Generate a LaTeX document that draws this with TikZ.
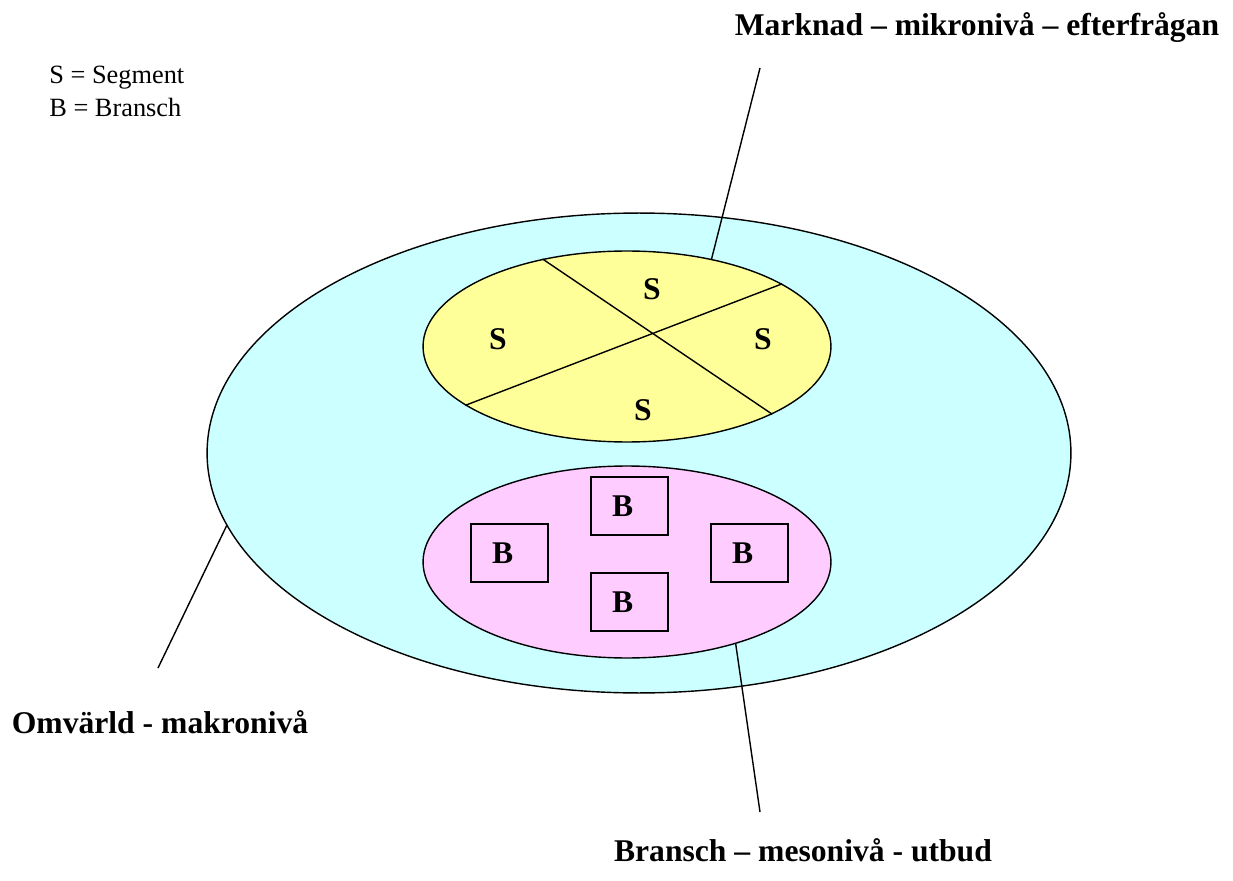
\documentclass[tikz,border=0pt]{standalone}
\usepackage{fontspec}
\setmainfont{Liberation Serif}
\usetikzlibrary{shapes.geometric}
\definecolor{omvcyan}{HTML}{CCFFFF}
\definecolor{marknadgul}{HTML}{FFFF99}
\definecolor{branschrosa}{HTML}{FFCCFF}
\tikzset{
  niva/.style={ellipse, draw=black, line width=0.8pt, inner sep=0pt},
  rubrik/.style={font=\fontsize{18pt}{21pt}\selectfont\bfseries, inner sep=0pt},
  seg/.style={font=\fontsize{18pt}{21pt}\selectfont\bfseries, inner sep=0pt},
  bbox/.style={draw=black, line width=0.8pt, fill=branschrosa,
    minimum width=1.54cm, minimum height=1.16cm, inner xsep=0.42cm,
    text width=0.7cm, align=left, font=\fontsize{18pt}{21pt}\selectfont\bfseries},
  linje/.style={draw=black, line width=0.8pt}
}
\begin{document}
\begin{tikzpicture}[x=0.02cm, y=-0.02cm]
  \useasboundingbox (0,0) rectangle (1233,881);
  % nivaer
  \node[niva, fill=omvcyan, minimum width=17.28cm, minimum height=9.6cm] (omv) at (639,453) {};
  \node[niva, fill=marknadgul, minimum width=8.16cm, minimum height=3.82cm] (mark) at (627,346.5) {};
  \node[niva, fill=branschrosa, minimum width=8.16cm, minimum height=3.84cm] (bran) at (627,562) {};
  \draw[linje] (mark.134) -- (mark.335);
  \draw[linje] (mark.200) -- (mark.22);
  % segment
  \node[seg] (s1) at (652,289) {S};
  \node[seg] (s2) at (498,339) {S};
  \node[seg] (s3) at (763,339) {S};
  \node[seg] (s4) at (643,410) {S};
  % branscher
  \node[bbox] (b1) at (629.5,506) {B};
  \node[bbox] (b2) at (509.5,553) {B};
  \node[bbox] (b3) at (749.5,553) {B};
  \node[bbox] (b4) at (629.5,602) {B};
  % texter
  \node[anchor=west, align=left, inner sep=0pt, font=\fontsize{15pt}{18.8pt}\selectfont] (legend) at (49,91) {S = Segment\\B = Bransch};
  \node[rubrik] (tmark) at (977,28) {Marknad -- mikronivå -- efterfrågan};
  \node[rubrik] (tomv) at (160,722) {Omvärld - makronivå};
  \node[rubrik] (tbran) at (803,850) {Bransch -- mesonivå - utbud};
  \coordinate (cmark) at (760,68);
  \coordinate (comv) at (158,668);
  \coordinate (cbran) at (760,812);
  \draw[linje] (cmark) -- (mark.46);
  \draw[linje] (comv) -- (omv.190);
  \draw[linje] (cbran) -- (bran.323);
\end{tikzpicture}
\end{document}
